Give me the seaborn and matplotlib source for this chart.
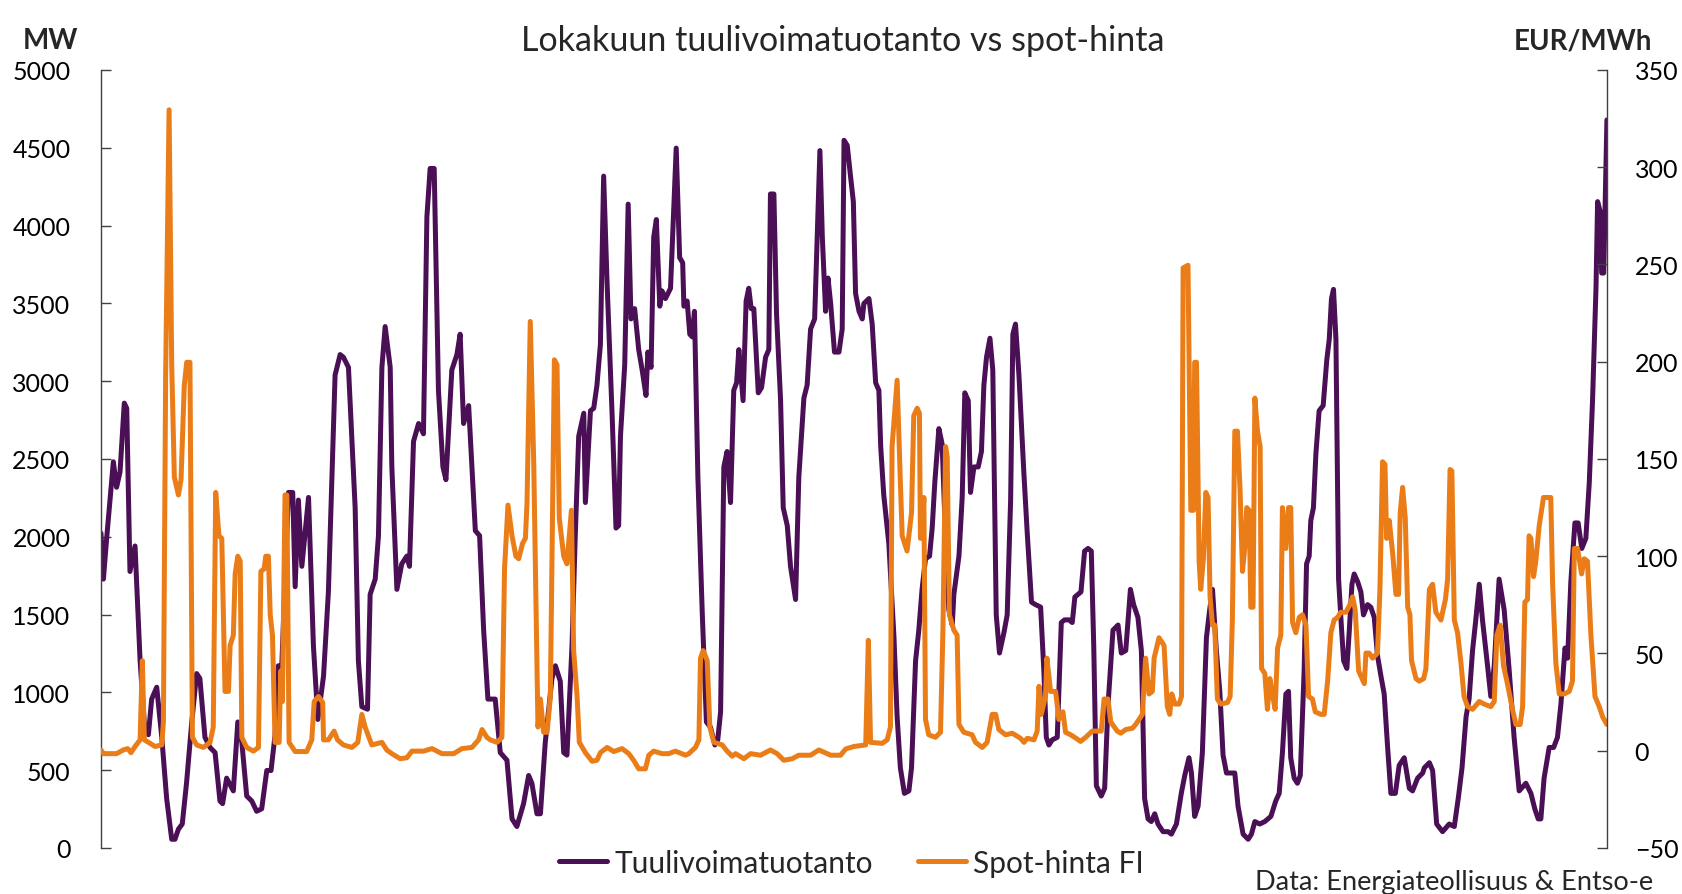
import matplotlib
matplotlib.use("Agg")
import matplotlib.pyplot as plt
import seaborn as sns

# hour of October (0..743) and wind power output, MW
wind_hour = [
    0, 1.2, 2.8, 6.1, 7.7, 9.4, 11.5, 12.7, 14.3, 16.8, 19.3, 21.7, 23.4, 25, 27.5, 30, 32.4, 34.9,
    36.5, 38.2, 40.1, 42.2, 44.8, 47.2, 48.8, 51.3, 53.8, 56.3, 58.7, 60, 62, 65.3, 67.5, 69.5, 71.9,
    74.4, 76.8, 79.3, 81.8, 83.9, 85.9, 87.5, 89.2, 92.5, 94.6, 95.8, 97.4, 99.1, 102.4, 104.8, 107,
    109.8, 112.2, 115.5, 118, 119.6, 122.1, 125.4, 127, 128.7, 131.5, 132.8, 135.3, 136.9, 138.6,
    140.2, 142.7, 143.5, 146, 148.4, 150.9, 152.2, 154.2, 156.7, 159.1, 160.8, 162.4, 164.4, 166.5,
    168.7, 170.2, 173.1, 175.6, 177.2, 178.9, 181.4, 184.7, 186.8, 188.8, 190.9, 194.5, 197, 200.3,
    202.8, 205.2, 208.5, 211, 212.6, 215.1, 216.8, 219.2, 222.5, 224.2, 226.6, 228.3, 229.9, 232.4,
    234, 235.7, 238.2, 239, 241.5, 243.1, 244.7, 246.4, 248, 249.7, 252.2, 254.1, 255.4, 256.3, 258.4,
    260.1, 261.5, 263.3, 265.3, 267, 268.9, 269.8, 271.4, 272.7, 274, 275.7, 276.8, 278.5, 281, 283.8,
    285.5, 287, 287.6, 289.2, 290.5, 291.7, 292.8, 294.5, 296.6, 298.7, 300.7, 302.9, 304.3, 305.7,
    307.3, 308.9, 310.6, 312.2, 313.6, 314.7, 316.8, 318.3, 319.6, 320.8, 322.1, 324.3, 325.9, 327.9,
    329.5, 330.3, 332, 333.3, 335.3, 336.6, 338.6, 340.2, 342.7, 344.3, 346.8, 348.4, 350.1, 352.1,
    354.7, 355.9, 357.5, 358.7, 360, 361.9, 364.1, 365.7, 366.6, 368.2, 369.8, 371.2, 372.3, 374,
    375.6, 376.4, 378.9, 380.5, 382.2, 383.8, 384.7, 386.2, 388.7, 391.2, 392.8, 394.4, 396.4, 398.6,
    399.9, 401.9, 403.5, 405.1, 406.8, 408.8, 410.1, 411.4, 413.4, 415, 416.7, 418.3, 420, 420.8,
    423.3, 424.9, 426.2, 427.9, 429, 430.7, 432.8, 434.4, 435.6, 436.9, 438.6, 440, 441.7, 443.3,
    445.5, 447.1, 448.8, 449.9, 451.2, 452.9, 455.3, 457, 459.1, 461.1, 463.6, 465.2, 466.4, 467.7,
    469.3, 471.8, 473.8, 475.4, 477.6, 479.2, 480.5, 483.5, 485.3, 487, 488.6, 489.8, 491.1, 493.5,
    495.2, 496.8, 499.3, 501.8, 503.4, 505.6, 507.9, 509.5, 511.6, 513.3, 514.9, 516.6, 518.2, 519.9,
    521.5, 524, 526.5, 528.1, 530.6, 533, 534.7, 536.8, 538, 539.6, 541.3, 543.4, 545.4, 547, 548.4,
    550.3, 552, 553.6, 555.3, 557.4, 559.4, 561, 563.5, 566, 567.6, 569.3, 571.7, 574.2, 577.2, 579.6,
    581.3, 582.9, 584.6, 585.9, 587, 588.7, 590.3, 591.7, 593.6, 594.8, 596.1, 596.9, 598.2, 599.4,
    601, 603, 604.8, 606, 607.1, 608.1, 609.3, 610.6, 612.1, 613.1, 614.7, 615.9, 617.2, 618.3, 620,
    621.6, 622.9, 624.9, 626.5, 628.2, 629.8, 631.5, 633.1, 634.8, 636.4, 638.6, 640.5, 643, 645.5,
    647.1, 649.6, 652.1, 652.9, 655.4, 657, 659, 661.9, 665.2, 667.7, 669.8, 671.5, 673.5, 675, 676.7,
    678.3, 680, 681.6, 684.1, 685.7, 687.4, 689.8, 692.3, 694.8, 697.2, 699.7, 703, 705.5, 707.4,
    709.1, 710.4, 712, 714.5, 716.7, 718.6, 720.3, 722.3, 723.6, 725.2, 727.2, 728.8, 730.6, 732.6,
    734.3, 735.9, 737.6, 738.4, 739.7, 740.4, 741.4, 743,
]
wind_mw = [
    2023, 1728, 1990, 2482, 2318, 2417, 2859, 2826, 1777, 1941, 1203, 744, 728, 957, 1033, 711, 318, 56,
    56, 121, 154, 416, 810, 1121, 1089, 711, 646, 613, 302, 285, 449, 367, 810, 679, 334,
    302, 236, 252, 498, 498, 728, 1171, 1171, 2285, 2285, 1679, 2236, 1810, 2253, 1302, 826,
    1105, 1646, 3039, 3171, 3154, 3089, 2187, 1203, 908, 892, 1630, 1728, 2007, 3089,
    3351, 3089, 2449, 1662, 1826, 1876, 1810, 2613, 2728, 2662, 4056, 4367, 4367, 2941,
    2449, 2367, 3072, 3171, 3302, 2728, 2843, 2039, 2007, 1400, 957, 957, 613, 564,
    187, 138, 285, 466, 416, 220, 220, 679, 1089, 1171, 1072, 613, 597, 1302,
    2007, 2646, 2794, 2220, 2810, 2826, 2974, 3236, 4318, 3630, 2777, 2056, 2072, 2646, 3105,
    4138, 3400, 3466, 3203, 3072, 2908, 3187, 3089, 3925, 4039, 3482, 3580, 3531, 3597, 4498,
    3794, 3761, 3482, 3515, 3302, 3285, 3449, 2384, 1531, 810, 777, 662, 695, 875,
    2449, 2548, 2220, 2941, 2990, 3203, 2875, 3515, 3597, 3466, 3466, 2925, 2958, 3154,
    3203, 4203, 4203, 3433, 2875, 2187, 2072, 1810, 1597, 2384, 2892, 2974, 3335, 3400,
    4482, 3925, 3449, 3663, 3499, 3187, 3187, 3335, 4548, 4515, 4318, 4154, 3564, 3449,
    3400, 3499, 3531, 3367, 2990, 2941, 2580, 2269, 1957, 1367, 843, 515, 351, 367,
    515, 1203, 1400, 1662, 1859, 1876, 2056, 2351, 2695, 2597, 1990, 1531, 1433, 1630,
    1876, 2253, 2925, 2875, 2285, 2449, 2449, 2548, 2974, 3154, 3276, 3072, 1498, 1253,
    1384, 1498, 2236, 3302, 3367, 3039, 2417, 2023, 1580, 1564, 1548, 1138, 711, 662,
    695, 711, 1449, 1466, 1466, 1449, 1613, 1646, 1908, 1925, 1908, 1302, 400, 334,
    384, 908, 1400, 1433, 1253, 1269, 1662, 1564, 1482, 1269, 318, 187, 170, 220,
    154, 105, 105, 89, 154, 351, 466, 580, 482, 203, 269, 613, 1351, 1531, 1662,
    1269, 1007, 597, 482, 482, 482, 269, 89, 56, 89, 170, 154, 170, 203, 302,
    351, 613, 990, 1007, 580, 449, 416, 466, 1138, 1826, 1876, 2105, 2187, 2531,
    2810, 2843, 3138, 3269, 3531, 3590, 3269, 1728, 1400, 1203, 1154, 1400, 1695, 1761, 1712,
    1646, 1498, 1564, 1548, 1482, 1236, 1105, 990, 646, 351, 351, 531, 580, 384,
    367, 449, 482, 515, 548, 498, 154, 105, 154, 138, 334, 515, 843, 957, 1269,
    1466, 1695, 1466, 1171, 974, 1171, 1728, 1531, 1138, 711, 367, 416, 351, 252,
    187, 187, 449, 646, 646, 711, 925, 1285, 1220, 1712, 2089, 2089, 1925, 1990,
    2351, 2875, 3597, 4154, 4089, 3695, 3695, 4679,
]

# hour of October and Finnish spot price, EUR/MWh
price_hour = [
    0, 1.2, 7.7, 11, 13.2, 14.8, 16.8, 19.3, 20.4, 21.4, 24.2, 26.7, 30, 30.8, 31.9, 33.6, 34.9, 36.2,
    38.2, 39.5, 41.1, 42.3, 43.9, 45.1, 47.2, 50.5, 53.8, 55.4, 56.6, 58.2, 59.6, 61.2, 62.9, 63.7,
    65.3, 66.2, 67.5, 68.7, 69.5, 71.9, 75.2, 77.7, 78.9, 80.5, 81.3, 82.6, 83.5, 84.6, 85.9, 87.9,
    88.7, 89.5, 90.8, 91.7, 92.8, 95.8, 101.5, 104, 105.2, 107.3, 109.4, 109.8, 112.2, 115, 116.7,
    119.6, 123.8, 126.7, 128.7, 130.3, 133.6, 138.6, 141, 143.5, 147.6, 150.9, 153.4, 159.1, 163.3,
    168.2, 174, 178.1, 183, 186.3, 188, 190.4, 192.1, 195.4, 197.8, 199.1, 200.8, 202.8, 204.7, 206.1,
    208, 209.4, 210.2, 211.8, 213.5, 215.6, 216.8, 218.4, 220.1, 221.7, 223.7, 225, 226.1, 228.3,
    229.9, 232.1, 233.2, 234.9, 236, 239, 242.3, 244.7, 246.4, 249.7, 253, 257.1, 260.4, 262.8, 265.3,
    268.6, 270.3, 272.7, 276.8, 280.1, 283.4, 288.4, 290, 293.3, 295, 295.8, 297.1, 299.1, 300.4,
    302.4, 306.5, 308.9, 311.4, 313.1, 317.2, 320.5, 325.4, 330.3, 333.6, 336.9, 341, 344.3, 350.1,
    354.2, 360, 364.9, 367.4, 371.5, 377.3, 378.6, 379.7, 385.4, 387.9, 389.5, 390.3, 392.8, 394.4,
    395.3, 397.7, 399.9, 401, 402.7, 403.8, 404.3, 405.1, 406, 406.8, 408.4, 411.7, 414.2, 415.4,
    416.7, 417.5, 418.6, 420.8, 422.4, 423.3, 425.7, 429.8, 431.5, 434.8, 437.2, 439.7, 441.4, 443,
    446.3, 449.6, 453.7, 455.4, 457, 460.3, 461.9, 462.8, 463.9, 466, 466.7, 468.5, 471, 472.6, 474.6,
    475.9, 478.4, 480.4, 483.3, 485.8, 489.1, 493.5, 494.9, 496.8, 498.2, 501.4, 503.1, 505.6, 508.9,
    510.5, 513.8, 515.4, 517.1, 518.7, 519.6, 522, 524.5, 526.1, 527.3, 528.3, 529.9, 531.9, 533.1,
    533.9, 536.3, 537.7, 539, 539.6, 540.5, 541.8, 542.6, 543.9, 545.1, 546.2, 547.2, 548.4, 549.5,
    550.8, 552.5, 555.8, 557.1, 558.2, 559.4, 560.7, 562, 563.2, 564.3, 565.3, 566.5, 567.3, 568.4,
    569.3, 570.6, 571.9, 572.6, 574.2, 575.5, 576.7, 577.7, 579.3, 580.5, 582.1, 582.9, 584.6, 585.9,
    587, 587.9, 589.5, 591.2, 592.8, 594.5, 595.8, 597.7, 599.1, 601.9, 603.5, 605.2, 606.8, 608.4,
    610.1, 611.7, 614.2, 616.2, 617.5, 618.8, 620.5, 621.6, 623.3, 624.1, 625.7, 627.4, 629.8, 631,
    632.3, 633.5, 634.3, 635.6, 637.3, 638.9, 640.2, 641, 642.2, 643.5, 644.7, 645.8, 646.6, 648.8,
    650.4, 652.6, 653.7, 655.4, 657, 658.6, 661.1, 663.3, 664.4, 665.6, 666.5, 667.7, 669.3, 671,
    672.5, 674.2, 676.7, 680, 682.4, 685.7, 687.4, 688.7, 690.3, 692, 693.9, 696.4, 698.1, 700.2,
    701.4, 702.5, 703.8, 704.6, 705.5, 706.8, 707.9, 709.6, 711.7, 715.3, 716.2, 717.8, 719.5, 721.9,
    724.4, 726, 726.9, 728.5, 730.5, 731.8, 733.4, 735.1, 737.1, 739.2, 740.9, 743,
]
price_eur = [
    0.4, -1.5, -1.5, 0.4, 1.1, -1, 2.2, 5.6, 46.3, 5.6, 3.8, 2.2, 3, 14.8, 193, 329.5, 198.4, 140.7,
    131.5, 139.4, 187.9, 199.7, 199.7, 6.9, 3, 1.7, 4.3, 12.2, 132.8, 110.5, 109.2, 30.5, 30.5, 54.1,
    59.4, 90.9, 100, 97.4, 6.9, 1.7, -0.2, 1.7, 92.2, 93.5, 100, 100, 69.9, 59.4, 4.3, 4.3,
    41, 25.3, 131.5, 131.5, 4.3, -0.4, -0.4, 5.6, 25.3, 27.9, 24.8, 5.6, 5.6, 10.1, 5.6,
    3, 1.7, 4.3, 18.7, 12.2, 3, 4.3, 0.4, -1.5, -4.1, -3.6, -0.2, -0.2, 1.1,
    -1.5, -1.5, 1.1, 1.7, 5.6, 10.9, 6.9, 5.6, 4.3, 6.9, 93.5, 126.3, 110.5, 100, 98.7,
    106.6, 109.2, 127.6, 220.7, 148.6, 12.2, 26.6, 9.5, 9.5, 27.9, 201, 198.4, 119.7, 100,
    96.1, 123.6, 51.5, 27.9, 4.3, -1, -5.4, -4.9, -1, 1.7, -0.4, 1.1, -1.5, -4.9, -9.3,
    -9.3, -2.3, -0.2, -1.5, -1.5, -0.2, -2.3, -1.5, 1.7, 5.6, 47.6, 51.5, 46.3, 12.2,
    4.3, 3, -0.2, -2.8, -1.5, -4.1, -1.5, -2.3, 0.4, -1.5, -4.9, -4.1, -2.3, -2.3,
    0.4, -2.3, -2.3, 0.9, 2.2, 3, 56.8, 4.3, 3.8, 5.6, 12.2, 156.4, 190.5, 138.1,
    110.5, 102.7, 122.3, 172.2, 176.1, 173.5, 109.2, 110.5, 130.2, 16.1, 8.2, 6.9, 9.5, 62,
    156.4, 151.2, 69.9, 62, 59.4, 13.5, 9.5, 8.2, 4.3, 1.7, 4.3, 18.7, 18.7, 10.9,
    8.2, 9, 6.4, 4.3, 6.4, 5.6, 10.1, 33.1, 18.7, 27.9, 47.6, 30.5, 30.5, 16.1, 20,
    9.5, 8.2, 6.9, 4.8, 6.9, 10.1, 10.1, 26.6, 26.6, 14.8, 10.1, 9, 10.9, 11.6,
    13.5, 18.7, 47.6, 29.2, 30.5, 47.6, 58.1, 54.1, 22.7, 18.7, 29.2, 24, 24, 27.9,
    248.2, 249.6, 123.6, 123.6, 199.7, 199.7, 97.4, 83, 98.7, 132.8, 130.2, 79.1, 64.6, 64.6,
    26.6, 24, 24.8, 27.9, 67.2, 164.3, 164.3, 134.1, 92.2, 104, 125, 123.6, 73.8, 73.8,
    181.3, 164.3, 156.4, 42.3, 39.7, 21.3, 37.1, 30.5, 21.3, 52.8, 59.4, 125, 104, 125,
    125, 65.9, 60.7, 68.6, 69.9, 64.6, 27.9, 26.6, 20, 18.7, 18.7, 35.8, 60.7, 67.2,
    68.6, 71.2, 71.2, 75.1, 79.1, 72.5, 41, 38.4, 34.5, 50.2, 50.2, 47.6, 50.2, 83,
    148.6, 147.2, 109.2, 118.4, 101.3, 80.4, 80.4, 122.3, 135.4, 119.7, 73.8, 69.9, 46.3, 37.1,
    35.8, 37.1, 42.3, 83, 85.6, 71.2, 67.2, 77.7, 88.2, 144.6, 143.8, 67.2, 60.7, 45,
    27.9, 22.7, 21.3, 25.3, 24, 22.7, 25.3, 59.4, 64.6, 43.6, 34.5, 21.3, 13.5, 13.5,
    22.7, 76.4, 77.7, 110.5, 109.2, 89.5, 97.4, 115.8, 130.2, 130.2, 85.6, 45, 29.2, 29.2,
    30.5, 35.8, 104, 104, 90.9, 98.7, 97.4, 59.4, 27.9, 22.7, 17.4, 13.5,
]

mw_ticks = list(range(0, 5001, 500))
eur_ticks = list(range(-50, 351, 50))

PURPLE = "#4a0f55"
ORANGE = "#ea7d17"

sns.set_style("white")
plt.rcParams["font.family"] = ["Lato", "DejaVu Sans"]

fig = plt.figure(figsize=(16.83, 8.95), dpi=100)
ax = fig.add_axes([0.060, 0.0514, 0.8948, 0.8693])
ax2 = ax.twinx()

sns.lineplot(x=wind_hour, y=wind_mw, ax=ax, color=PURPLE, linewidth=3.6,
             estimator=None, label="Tuulivoimatuotanto", legend=False)
sns.lineplot(x=price_hour, y=price_eur, ax=ax2, color=ORANGE, linewidth=3.6,
             estimator=None, label="Spot-hinta FI", legend=False)

ax.set_xlim(0, 743)
ax.set_ylim(0, 5000)
ax2.set_ylim(-50, 350)
ax.set_yticks(mw_ticks)
ax2.set_yticks(eur_ticks)
ax.set_xticks([])
ax.set_xlabel("")
ax.set_ylabel("")
ax2.set_ylabel("")

for a in (ax, ax2):
    for side in ("top", "bottom"):
        a.spines[side].set_visible(False)
    a.spines["left"].set_visible(a is ax)
    a.spines["right"].set_visible(a is ax2)
    for s in a.spines.values():
        s.set_color("#404040")
        s.set_linewidth(1.0)

ax.tick_params(axis="y", direction="in", length=7, width=1, color="#404040",
               labelsize=18, pad=22, left=True, labelcolor="black")
ax2.tick_params(axis="y", direction="in", length=7, width=1, color="#404040",
                labelsize=18, pad=20, right=True, labelcolor="black")

fig.text(0.501, 0.954, "Lokakuun tuulivoimatuotanto vs spot-hinta", ha="center",
         va="center", fontsize=24.5)
fig.text(0.030, 0.954, "MW", ha="center", va="center", fontsize=20, fontweight="bold")
fig.text(0.9406, 0.954, "EUR/MWh", ha="center", va="center", fontsize=20, fontweight="bold")
fig.text(0.982, 0.0145, "Data: Energiateollisuus & Entso-e", ha="right", va="center",
         fontsize=19.5)

h1, l1 = ax.get_legend_handles_labels()
h2, l2 = ax2.get_legend_handles_labels()
fig.legend(h1 + h2, l1 + l2, loc="center", bbox_to_anchor=(0.506, 0.035), ncol=2,
           frameon=False, fontsize=21.5, handlelength=1.6, handletextpad=0.25,
           columnspacing=1.5)

fig.savefig("out.png", dpi=100)
